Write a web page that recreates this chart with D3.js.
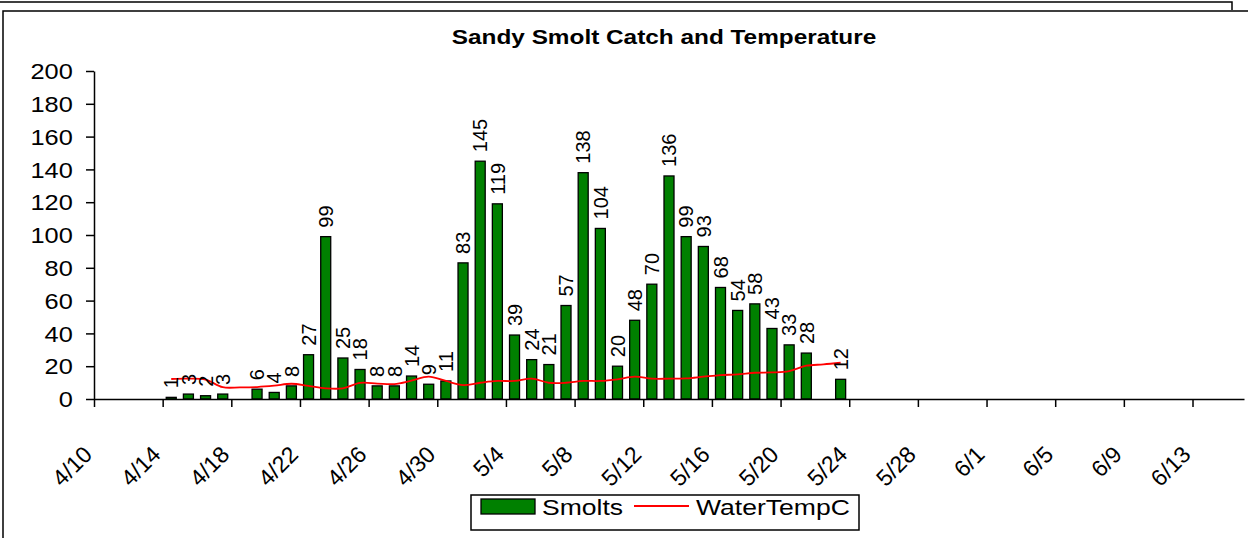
<!DOCTYPE html>
<html>
<head>
<meta charset="utf-8">
<script src="https://cdn.jsdelivr.net/npm/d3@7"></script>
<style>
  body { margin: 0; background: #fff; }
  svg { display: block; font-family: "Liberation Sans", Arial, sans-serif; }
</style>
</head>
<body>
<div id="content"></div>
<script>
var Width = 1248;
var Height = 538;

// tick labels of the date axis (every 4 days)
var tickLabels = ["4/10", "4/14", "4/18", "4/22", "4/26", "4/30", "5/4", "5/8", "5/12",
  "5/16", "5/20", "5/24", "5/28", "6/1", "6/5", "6/9", "6/13"];
var yTicks = [0, 20, 40, 60, 80, 100, 120, 140, 160, 180, 200];

// smolt catch per day
var smoltDates = ["4/14", "4/15", "4/16", "4/17", "4/19", "4/20", "4/21", "4/22", "4/23", "4/24",
  "4/25", "4/26", "4/27", "4/28", "4/29", "4/30", "5/1", "5/2", "5/3", "5/4",
  "5/5", "5/6", "5/7", "5/8", "5/9", "5/10", "5/11", "5/12", "5/13", "5/14",
  "5/15", "5/16", "5/17", "5/18", "5/19", "5/20", "5/21", "5/23"];
var smolts = [1, 3, 2, 3, 6, 4, 8, 27, 99, 25,
  18, 8, 8, 14, 9, 11, 83, 145, 119, 39,
  24, 21, 57, 138, 104, 20, 48, 70, 136, 99,
  93, 68, 54, 58, 43, 33, 28, 12];

// water temperature (C)
var tempDates = ["4/14", "4/15", "4/16", "4/17", "4/18", "4/19", "4/20", "4/21", "4/22", "4/23",
  "4/24", "4/25", "4/26", "4/27", "4/28", "4/29", "4/30", "5/1", "5/2", "5/3",
  "5/4", "5/5", "5/6", "5/7", "5/8", "5/9", "5/10", "5/11", "5/12", "5/13",
  "5/14", "5/15", "5/16", "5/17", "5/18", "5/19", "5/20", "5/21", "5/22", "5/23"];
var waterTemp = [12.2, 12.4, 11.8, 7.2, 7.1, 7.3, 8.1, 9.3, 8.0, 6.5,
  6.5, 9.8, 9.4, 9.1, 11.2, 13.6, 11.0, 8.5, 9.9, 11.0,
  11.0, 12.4, 9.9, 9.9, 11.0, 11.0, 12.0, 13.6, 12.4, 12.4,
  12.6, 13.6, 14.6, 15.0, 16.0, 16.2, 17.0, 20.3, 21.1, 22.1];

var parseDay = function (s) {
  var p = s.split("/");
  return new Date(2009, +p[0] - 1, +p[1]);
};
var noon = function (s) { return d3.timeHour.offset(parseDay(s), 12); };

var svg = d3.select("#content").append("svg")
  .attr("width", Width)
  .attr("height", Height);

// frame lines (box above and chart area)
svg.append("path")
  .attr("d", "M0,2H1232V10")
  .attr("fill", "none").attr("stroke", "#000").attr("stroke-width", 1.5);
svg.append("path")
  .attr("d", "M3,538V11H1248")
  .attr("fill", "none").attr("stroke", "#000").attr("stroke-width", 1.5);

var xScale = d3.scaleTime()
  .domain([parseDay("4/10"), parseDay("6/16")])
  .range([94, 1244]);
var yScale = d3.scaleLinear().domain([0, 200]).range([399, 71]);

// title
svg.append("g")
  .attr("transform", "translate(664,44) scale(1.16,1)")
  .append("text")
  .attr("text-anchor", "middle")
  .attr("font-weight", "bold")
  .attr("font-size", 21)
  .text("Sandy Smolt Catch and Temperature");

// y axis
var yAxis = d3.axisLeft(yScale).tickValues(yTicks).tickSize(8).tickSizeOuter(0);
var gy = svg.append("g")
  .attr("transform", "translate(94,0)")
  .call(yAxis);
gy.selectAll("text")
  .attr("x", -18)
  .attr("dy", "0.36em")
  .attr("font-size", 21.5)
  .attr("font-family", "Liberation Sans, Arial, sans-serif")
  .attr("fill", "#000")
  .attr("transform", "scale(1.18,1)");

// bars
var bw = 10;
svg.selectAll("rect.bar")
  .data(smolts)
  .enter()
  .append("rect")
  .attr("class", "bar")
  .attr("x", function (d, i) { return xScale(noon(smoltDates[i])) - bw / 2; })
  .attr("y", function (d) { return yScale(d); })
  .attr("width", bw)
  .attr("height", function (d) { return yScale(0) - yScale(d); })
  .attr("fill", "#008000")
  .attr("stroke", "#000")
  .attr("stroke-width", 1.3);

// temperature line
var line = d3.line()
  .x(function (d, i) { return xScale(noon(tempDates[i])); })
  .y(function (d) { return yScale(d); })
  .curve(d3.curveCatmullRom.alpha(0.5));
svg.append("path")
  .datum(waterTemp)
  .attr("d", line)
  .attr("fill", "none")
  .attr("stroke", "#ff0000")
  .attr("stroke-width", 1.8);

// data labels
svg.selectAll("text.lbl")
  .data(smolts)
  .enter()
  .append("text")
  .attr("class", "lbl")
  .attr("transform", function (d, i) {
    return "translate(" + xScale(noon(smoltDates[i])) + "," + (yScale(d) - 9) + ") rotate(-90)";
  })
  .attr("dy", "0.36em")
  .attr("font-size", 20)
  .text(function (d) { return d; });

// x axis
var xAxis = d3.axisBottom(xScale)
  .tickValues(tickLabels.map(parseDay))
  .tickFormat(d3.timeFormat("%-m/%-d"))
  .tickSize(8)
  .tickSizeOuter(0);
var gx = svg.append("g")
  .attr("transform", "translate(0,399)")
  .call(xAxis);
gx.selectAll("text")
  .attr("x", 0).attr("y", 0).attr("dy", 0)
  .attr("text-anchor", "end")
  .attr("font-size", 23)
  .attr("font-family", "Liberation Sans, Arial, sans-serif")
  .attr("fill", "#000")
  .attr("transform", "translate(-1,57) rotate(-45)");

svg.selectAll(".domain, .tick line").attr("stroke", "#000").attr("stroke-width", 1.5);

// legend
var lg = svg.append("g");
lg.append("rect")
  .attr("x", 471).attr("y", 495).attr("width", 388).attr("height", 35)
  .attr("fill", "#fff").attr("stroke", "#000").attr("stroke-width", 1.5);
lg.append("rect")
  .attr("x", 481).attr("y", 499).attr("width", 54).attr("height", 15)
  .attr("fill", "#008000").attr("stroke", "#000").attr("stroke-width", 1.3);
lg.append("g")
  .attr("transform", "translate(542,515) scale(1.18,1)")
  .append("text").attr("font-size", 22.5).text("Smolts");
lg.append("line")
  .attr("x1", 634).attr("x2", 689).attr("y1", 506).attr("y2", 506)
  .attr("stroke", "#ff0000").attr("stroke-width", 1.8);
lg.append("g")
  .attr("transform", "translate(696,515) scale(1.18,1)")
  .append("text").attr("font-size", 22.5).text("WaterTempC");
</script>
</body>
</html>
